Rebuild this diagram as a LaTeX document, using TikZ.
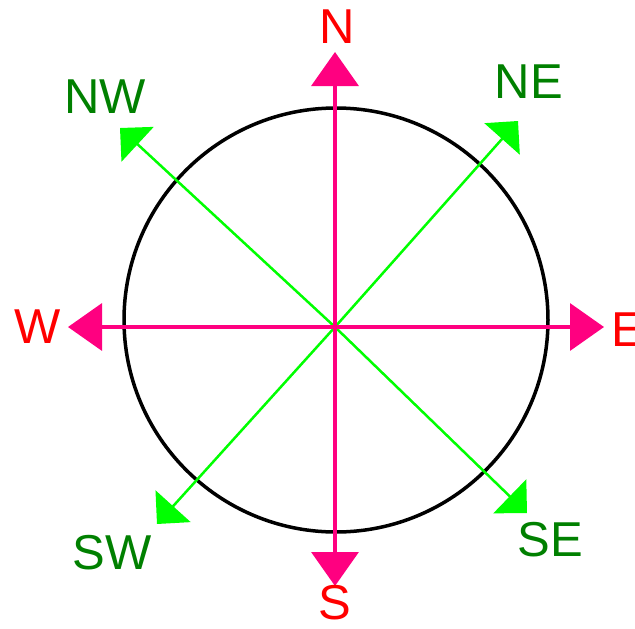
\documentclass[tikz,border=0pt]{standalone}
\usepackage{fontspec}
\setmainfont{Liberation Sans}
\usetikzlibrary{arrows.meta}
\definecolor{pinkline}{RGB}{255,0,128}
\definecolor{limeline}{RGB}{0,255,0}
\definecolor{darkgreen}{RGB}{0,128,0}

\begin{document}
\begin{tikzpicture}[x=1pt,y=-1pt,
    axis/.style={draw=pinkline, line width=3.5pt, -{Triangle[length=34pt,width=47pt]}},
    diag/.style={draw=limeline, line width=2.5pt, -{Triangle[length=24pt,width=47pt]}},
    cardinal/.style={text=red, font=\fontsize{49}{49}\selectfont, inner sep=0pt},
    ordinal/.style={text=darkgreen, font=\fontsize{49}{49}\selectfont, inner sep=0pt}]
    \useasboundingbox (0,0) rectangle (635,629);
    \draw[line width=3.5pt] (336,320) circle[radius=212pt];
    \coordinate (c) at (335,327);
    % arrow tips
    \coordinate (tn) at (335,52);
    \coordinate (ts) at (335,586);
    \coordinate (te) at (604,327);
    \coordinate (tw) at (68,327);
    \coordinate (tne) at (518,121);
    \coordinate (tnw) at (120,128);
    \coordinate (tsw) at (157,524);
    \coordinate (tse) at (527,513);
    \draw[diag] (c) -- (tne);
    \draw[diag] (c) -- (tnw);
    \draw[diag] (c) -- (tsw);
    \draw[diag] (c) -- (tse);
    \draw[axis] (c) -- (tn);
    \draw[axis] (c) -- (ts);
    \draw[axis] (c) -- (te);
    \draw[axis] (c) -- (tw);
    % labels
    \node[cardinal] (n) at (337,27) {N};
    \node[cardinal] (s) at (335,603) {S};
    \node[cardinal, anchor=west] (e) at (611,330) {E};
    \node[cardinal] (w) at (38,327) {W};
    \node[ordinal] (ne) at (529,82) {NE};
    \node[ordinal] (nw) at (105,97) {NW};
    \node[ordinal] (sw) at (112,553) {SW};
    \node[ordinal] (se) at (550,540) {SE};
\end{tikzpicture}
\end{document}
